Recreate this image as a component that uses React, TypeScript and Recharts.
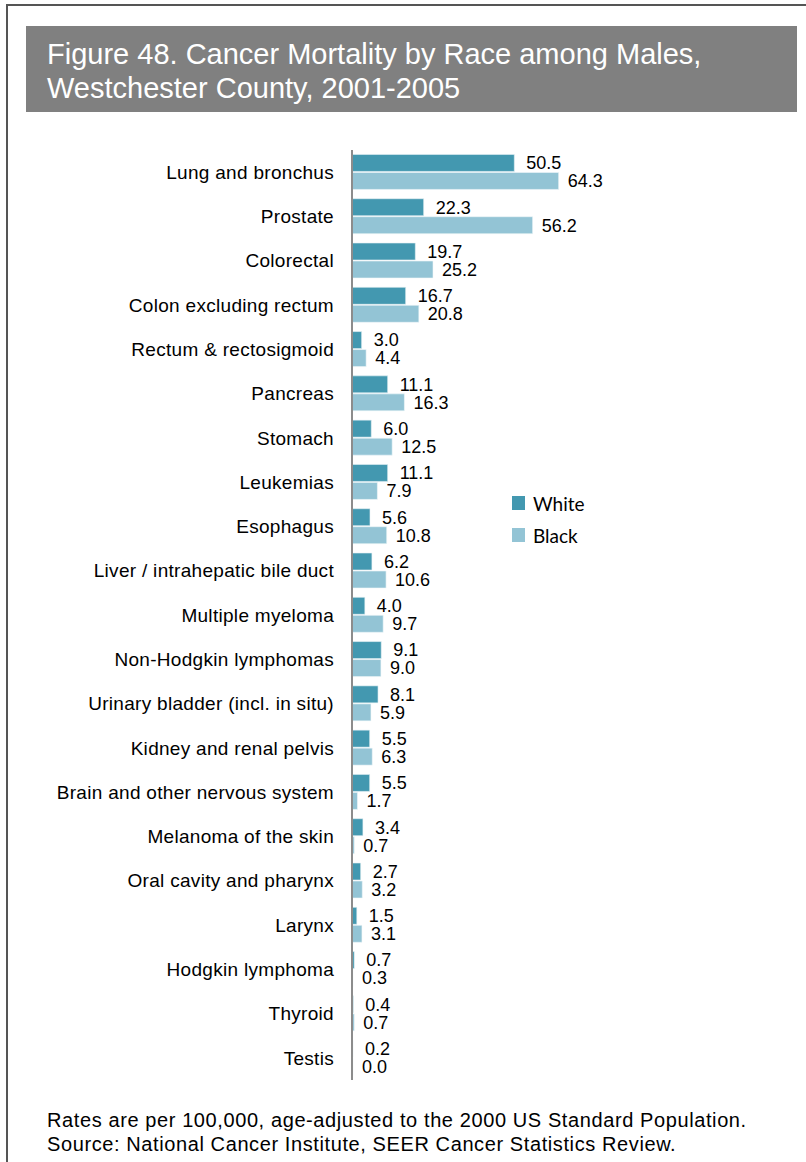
import React from 'react';
import { BarChart, Bar, XAxis, YAxis, LabelList } from 'recharts';

const categories = [
  'Lung and bronchus',
  'Prostate',
  'Colorectal',
  'Colon excluding rectum',
  'Rectum & rectosigmoid',
  'Pancreas',
  'Stomach',
  'Leukemias',
  'Esophagus',
  'Liver / intrahepatic bile duct',
  'Multiple myeloma',
  'Non-Hodgkin lymphomas',
  'Urinary bladder (incl. in situ)',
  'Kidney and renal pelvis',
  'Brain and other nervous system',
  'Melanoma of the skin',
  'Oral cavity and pharynx',
  'Larynx',
  'Hodgkin lymphoma',
  'Thyroid',
  'Testis',
];

const whiteValues = [50.5, 22.3, 19.7, 16.7, 3.0, 11.1, 6.0, 11.1, 5.6, 6.2, 4.0, 9.1, 8.1, 5.5, 5.5, 3.4, 2.7, 1.5, 0.7, 0.4, 0.2];
const blackValues = [64.3, 56.2, 25.2, 20.8, 4.4, 16.3, 12.5, 7.9, 10.8, 10.6, 9.7, 9.0, 5.9, 6.3, 1.7, 0.7, 3.2, 3.1, 0.3, 0.7, 0.0];

const seriesNames = ['White', 'Black'];

const titleLines = ['Figure 48. Cancer Mortality by Race among Males,', 'Westchester County, 2001-2005'];
const footnoteLines = [
  'Rates are per 100,000, age-adjusted to the 2000 US Standard Population.',
  'Source: National Cancer Institute, SEER Cancer Statistics Review.',
];

const data = categories.map((c, i) => ({ name: c, White: whiteValues[i], Black: blackValues[i] }));

const COLORS = ['#4398B0', '#93C4D5'];
const FONT = '"Liberation Sans", Arial, sans-serif';

const fmt = (v: any) => Number(v).toFixed(1);

export default function App() {
  return (
    <div style={{ position: 'absolute', left: 0, top: 0, width: 806, height: 1162, background: '#fff', overflow: 'hidden' }}>
      <div
        style={{
          position: 'absolute',
          left: 6,
          top: 4,
          width: 900,
          height: 1200,
          borderLeft: '2px solid #555',
          borderTop: '2px solid #555',
        }}
      />
      <div
        style={{
          position: 'absolute',
          left: 26,
          top: 26,
          width: 771,
          height: 86,
          background: '#808080',
          color: '#fff',
          fontFamily: FONT,
          fontSize: 29,
          lineHeight: '34px',
          paddingTop: 11,
          paddingLeft: 21,
          boxSizing: 'border-box',
        }}
      >
        {titleLines.map((t, i) => (
          <div key={i}>{t}</div>
        ))}
      </div>
      <div style={{ position: 'absolute', left: 0, top: 0 }}>
        <BarChart
          width={806}
          height={1162}
          data={data}
          layout="vertical"
          margin={{ top: 150, right: 229, bottom: 82, left: 0 }}
          barCategoryGap="10%"
          barGap={1}
        >
          <XAxis type="number" domain={[0, 70]} hide />
          <YAxis
            type="category"
            dataKey="name"
            width={352}
            axisLine={{ stroke: '#8c8c8c', strokeWidth: 2 }}
            tickLine={false}
            tickSize={18}
            tickMargin={0}
            interval={0}
            tick={{ fontSize: 19, fill: '#000', fontFamily: FONT, letterSpacing: 0.3 }}
          />
          <Bar dataKey="White" fill={COLORS[0]} stroke="#e8f2f5" strokeWidth={0.6} minPointSize={1} isAnimationActive={false}>
            <LabelList dataKey="White" position="right" offset={12} formatter={fmt} style={{ fontSize: 18, fill: '#000', fontFamily: FONT }} />
          </Bar>
          <Bar dataKey="Black" fill={COLORS[1]} stroke="#f0f7f9" strokeWidth={0.6} minPointSize={1} isAnimationActive={false}>
            <LabelList dataKey="Black" position="right" offset={9} formatter={fmt} style={{ fontSize: 18, fill: '#000', fontFamily: FONT }} />
          </Bar>
        </BarChart>
      </div>
      <div style={{ position: 'absolute', left: 512, top: 487 }}>
        {seriesNames.map((s, i) => (
          <div key={s} style={{ display: 'flex', alignItems: 'center', height: 32 }}>
            <div style={{ width: 13, height: 14, background: COLORS[i] }} />
            <span style={{ marginLeft: 8, fontFamily: 'Lato, "Open Sans", sans-serif', fontSize: 19, color: '#000' }}>{s}</span>
          </div>
        ))}
      </div>
      <div
        style={{
          position: 'absolute',
          left: 47,
          top: 1108,
          fontFamily: FONT,
          fontSize: 20,
          letterSpacing: 0.6,
          lineHeight: '24px',
          color: '#000',
          whiteSpace: 'nowrap',
        }}
      >
        {footnoteLines.map((t, i) => (
          <div key={i}>{t}</div>
        ))}
      </div>
    </div>
  );
}
